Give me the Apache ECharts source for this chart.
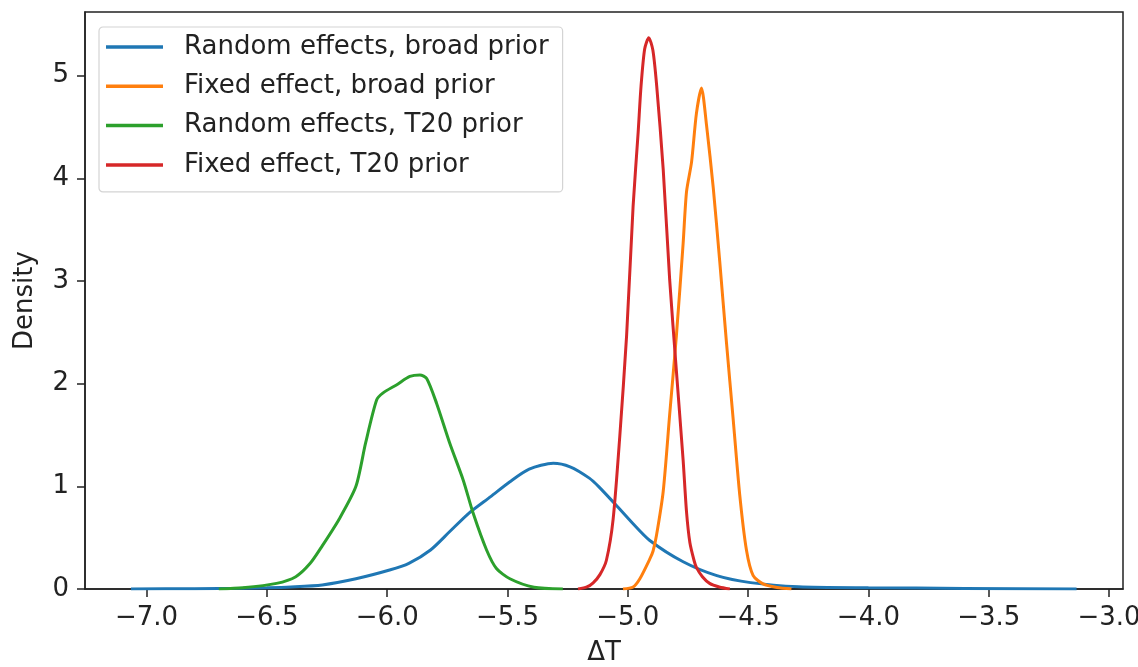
<!DOCTYPE html>
<html>
<head>
<meta charset="utf-8">
<script src="https://cdn.jsdelivr.net/npm/echarts@6/dist/echarts.min.js"></script>
<style>
  html, body { margin: 0; padding: 0; background: #fff; }
  #chart { width: 1138px; height: 667px; }
</style>
</head>
<body>
<div id="chart"></div>
<script>
  // KDE curves
  const blueX = [-7.065, -6.8, -6.6, -6.5, -6.4, -6.27, -6.13, -5.99, -5.91, -5.82, -5.74, -5.66, -5.57, -5.49, -5.41, -5.31, -5.24, -5.16, -5.12, -5.05, -4.98, -4.91, -4.77, -4.63, -4.49, -4.29, -4.0, -3.6, -3.135];
  const blueY = [0, 0.003, 0.008, 0.012, 0.02, 0.04, 0.1, 0.185, 0.25, 0.38, 0.56, 0.74, 0.9, 1.045, 1.167, 1.225, 1.19, 1.08, 0.995, 0.82, 0.64, 0.475, 0.265, 0.13, 0.062, 0.022, 0.012, 0.006, 0];

  const orangeX = [-5.02, -4.978, -4.95, -4.909, -4.895, -4.881, -4.853, -4.826, -4.798, -4.77, -4.756, -4.735, -4.715, -4.694, -4.673, -4.645, -4.618, -4.59, -4.562, -4.535, -4.507, -4.479, -4.438, -4.38, -4.32];
  const orangeY = [0, 0.02, 0.1, 0.29, 0.37, 0.52, 0.95, 1.7, 2.47, 3.37, 3.87, 4.16, 4.63, 4.88, 4.52, 3.91, 3.19, 2.4, 1.65, 0.92, 0.38, 0.13, 0.05, 0.015, 0];

  const greenX = [-6.7, -6.6, -6.46, -6.38, -6.32, -6.27, -6.2, -6.13, -6.09, -6.044, -6.017, -5.96, -5.906, -5.864, -5.836, -5.795, -5.74, -5.684, -5.643, -5.587, -5.546, -5.49, -5.39, -5.27];
  const greenY = [0, 0.012, 0.055, 0.12, 0.25, 0.42, 0.68, 1.0, 1.42, 1.84, 1.91, 1.99, 2.07, 2.085, 2.05, 1.81, 1.42, 1.06, 0.74, 0.38, 0.2, 0.1, 0.017, 0];

  const redX = [-5.207, -5.17, -5.144, -5.116, -5.089, -5.061, -5.033, -5.005, -4.978, -4.957, -4.945, -4.93, -4.913, -4.896, -4.88, -4.853, -4.826, -4.798, -4.77, -4.756, -4.742, -4.725, -4.715, -4.69, -4.66, -4.62, -4.576];
  const redY = [0, 0.02, 0.06, 0.14, 0.28, 0.68, 1.5, 2.47, 3.73, 4.45, 4.9, 5.26, 5.37, 5.25, 4.9, 4.09, 3.01, 2.12, 1.25, 0.75, 0.45, 0.28, 0.21, 0.12, 0.055, 0.02, 0];

  const seriesNames = [
    'Random effects, broad prior',
    'Fixed effect, broad prior',
    'Random effects, T20 prior',
    'Fixed effect, T20 prior',
  ];
  const seriesColors = ['#1f77b4', '#ff7f0e', '#2ca02c', '#d62728'];
  const xTicks = [-7.0, -6.5, -6.0, -5.5, -5.0, -4.5, -4.0, -3.5, -3.0];
  const yTicks = [0, 1, 2, 3, 4, 5];

  const zip = (xs, ys) => xs.map((x, i) => [x, ys[i]]);
  const curves = [zip(blueX, blueY), zip(orangeX, orangeY), zip(greenX, greenY), zip(redX, redY)];

  const fmtMinus = (v) => (v < 0 ? '\u2212' : '') + Math.abs(v).toFixed(1);
  const axisColor = '#222';
  const font = 'DejaVu Sans';
  const fontSize = 26;

  const chart = echarts.init(document.getElementById('chart'));
  chart.setOption({
    animation: false,
    color: seriesColors,
    textStyle: { fontFamily: font },
    grid: {
      left: 85,
      right: 15,
      top: 12,
      bottom: 78,
      outerBoundsMode: 'none',
      show: true,
      borderColor: axisColor,
      borderWidth: 1.5,
    },
    legend: {
      orient: 'vertical',
      left: 99,
      top: 27,
      padding: [6, 14, 13, 7],
      icon: 'rect',
      itemWidth: 57,
      itemHeight: 3.5,
      itemGap: 11.3,
      backgroundColor: 'rgba(255,255,255,0.85)',
      borderColor: '#d4d4d4',
      borderWidth: 1.2,
      borderRadius: 4,
      textStyle: {
        fontFamily: font,
        fontSize: fontSize,
        lineHeight: 28,
        color: axisColor,
        padding: [0, 0, 0, 16],
      },
      data: seriesNames,
    },
    xAxis: {
      type: 'value',
      min: -7.256,
      max: -2.942,
      name: '\u0394T',
      nameLocation: 'middle',
      nameGap: 51,
      nameTextStyle: { fontFamily: font, fontSize: fontSize, color: axisColor },
      splitLine: { show: false },
      axisLine: { show: true, onZero: false, lineStyle: { color: axisColor, width: 1.5 } },
      axisTick: { show: true, length: 8, customValues: xTicks, lineStyle: { color: axisColor, width: 1.5 } },
      axisLabel: {
        customValues: xTicks,
        formatter: fmtMinus,
        margin: 16,
        fontFamily: font,
        fontSize: fontSize,
        color: axisColor,
      },
    },
    yAxis: {
      type: 'value',
      min: 0,
      max: 5.62,
      name: 'Density',
      nameLocation: 'middle',
      nameGap: 47,
      nameTextStyle: { fontFamily: font, fontSize: fontSize, color: axisColor },
      splitLine: { show: false },
      axisLine: { show: true, lineStyle: { color: axisColor, width: 1.5 } },
      axisTick: { show: true, length: 8, customValues: yTicks, lineStyle: { color: axisColor, width: 1.5 } },
      axisLabel: {
        customValues: yTicks,
        margin: 16,
        fontFamily: font,
        fontSize: fontSize,
        color: axisColor,
      },
    },
    series: curves.map((data, i) => ({
      name: seriesNames[i],
      type: 'line',
      data: data,
      symbol: 'none',
      smooth: 0.25,
      lineStyle: { width: 3, color: seriesColors[i] },
      itemStyle: { color: seriesColors[i] },
    })),
  });
</script>
</body>
</html>
